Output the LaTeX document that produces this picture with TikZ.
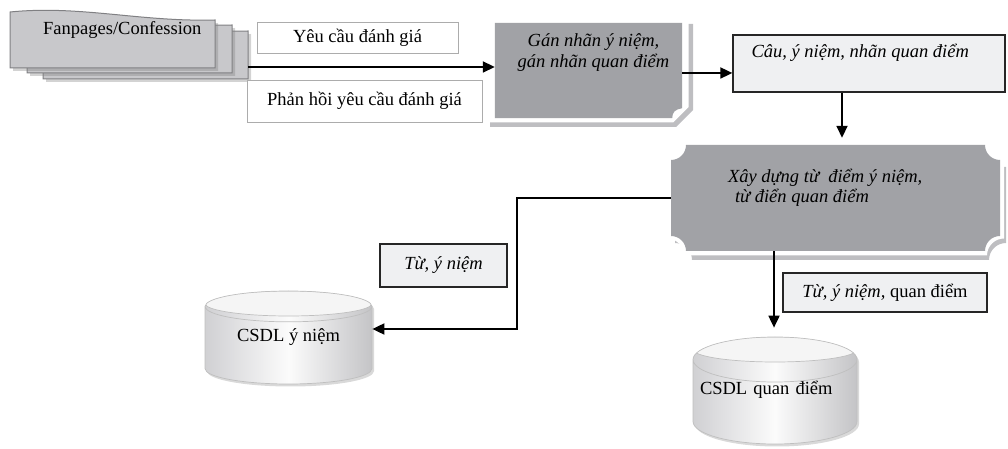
\documentclass[tikz,border=0pt]{standalone}
\usepackage{fontspec}
\setmainfont{Liberation Serif}
\usetikzlibrary{shapes, arrows.meta, positioning, calc, shadows}

\definecolor{pagegray}{RGB}{200,200,203}
\definecolor{pageline}{RGB}{128,128,131}
\definecolor{procgray}{RGB}{161,162,166}
\definecolor{notegray}{RGB}{239,240,242}
\definecolor{rimgray}{RGB}{190,190,193}
\definecolor{dbside}{RGB}{208,208,211}

% plaque outline with hollowed corners: sw corner, ne corner, corner radius
\newcommand{\plaque}[3]{%
  let \p1=#1, \p2=#2 in
  (\x1+#3,\y1) -- (\x2-#3,\y1) arc[start angle=180, end angle=90, radius=#3]
  -- (\x2,\y2-#3) arc[start angle=270, end angle=180, radius=#3]
  -- (\x1+#3,\y2) arc[start angle=360, end angle=270, radius=#3]
  -- (\x1,\y1+#3) arc[start angle=90, end angle=0, radius=#3] -- cycle}

\begin{document}
\begin{tikzpicture}[x=1pt, y=1pt, font=\fontsize{18.5}{20.5}\selectfont,
  flow/.style={-{Triangle[length=12pt, width=11pt]}, line width=1.8pt},
  msgbox/.style={draw=gray!65, line width=0.7pt, fill=white, inner sep=0pt},
  notebox/.style={draw=black!85, line width=1.3pt, fill=notegray, inner sep=0pt},
  dbase/.style={cylinder, shape border rotate=90, aspect=0.3, anchor=shape center,
    draw=gray!50, line width=0.7pt, inner sep=0pt,
    drop shadow={shadow xshift=2pt, shadow yshift=-2.5pt, opacity=0.3},
    path picture={
      \shade[left color=dbside, right color=dbside!85!gray, middle color=white!97!gray]
        (path picture bounding box.south west) rectangle (path picture bounding box.north east);
      \draw[gray!50, fill=white!92!gray, line width=0.7pt]
        let \p1=(path picture bounding box.north west), \p2=(path picture bounding box.north east) in
        ([yshift=-12.5pt]path picture bounding box.north) ellipse[x radius={(\x2-\x1)/2}, y radius=12.5pt];
    }},
  txt/.style={inner sep=0pt, font=\fontsize{18.5}{20.5}\selectfont\itshape}]
\useasboundingbox (0,0) rectangle (1008,449);

% stacked pages
\foreach \dx/\dy in {33/11, 17/5, 0/0}
  \draw[pageline, fill=pagegray, line width=1pt, shift={(\dx,-\dy)},
        drop shadow={shadow xshift=3pt, shadow yshift=-3pt, opacity=0.35}]
    (10,437) .. controls (80,444) and (140,427) .. (215,429) -- (215,381) -- (10,381) -- cycle;
\node[inner sep=0pt, anchor=west] (fan) at (43,419) {Fanpages/Confession};
\coordinate (fanR) at (248,382);

% request / reply
\node[msgbox, minimum width=201pt, minimum height=31pt] (req) at (357.5,411.5) {Yêu cầu đánh giá};
\node[msgbox, minimum width=235pt, minimum height=42pt] (reply) at (364.5,348) {Phản hồi yêu cầu đánh giá};

% labelling step, a page with a curled corner
\fill[rimgray] (490,322) -- (676,322) -- (693,339) -- (693,425) -- (490,425) -- cycle;
\fill[white] (487,326.5) -- (673,326.5) -- (688.5,342) -- (688.5,430) -- (487,430) -- cycle;
\node[minimum width=187pt, minimum height=95pt, inner sep=0pt] (tag) at (588.5,378.5) {};
\fill[procgray] (tag.north west) -- (tag.north east) -- ([yshift=10pt]tag.south east)
  .. controls ([shift={(-7pt,9pt)}]tag.south east) and ([shift={(-10pt,6pt)}]tag.south east) .. ([xshift=-10pt]tag.south east)
  -- (tag.south west) -- cycle;
\node[txt, align=center, below=11pt of tag.north, xshift=5pt] (tagtxt) {Gán nhãn ý niệm,\\gán nhãn quan điểm};

% sentences, concepts and labels
\node[notebox, minimum width=272pt, minimum height=57pt] (cau) at (869,385.5) {};
\node[txt, below right=10pt and 19pt of cau.north west] (cautxt) {Câu, ý niệm, nhãn quan điểm};

% dictionary building step
\fill[rimgray] \plaque{(675,189)}{(1006,299)}{17pt};
\fill[white] \plaque{(667,193.5)}{(1004,308)}{17pt};
\fill[procgray] \plaque{(671,198)}{(1000,304)}{15pt};
\node[minimum width=329pt, minimum height=106pt, inner sep=0pt] (build) at (835.5,251) {};
\node[txt, align=left, below right=24pt and 57pt of build.north west] (buildtxt)
  {Xây dựng từ~ điểm ý niệm,\\\hspace*{7pt}từ điển quan điểm};

% databases
\node[dbase, minimum width=167pt, minimum height=93pt] (dbidea) at (288.5,111.5)
  {\raisebox{8pt}[\height][\depth]{CSDL ý niệm}};
\node[dbase, minimum width=164pt, minimum height=107pt, text width=150pt, align=left] (dbview) at (775,58.5)
  {\raisebox{12pt}[\height][\depth]{CSDL quan điểm}};

\node[notebox, minimum width=127pt, minimum height=43pt] (lblidea) at (443.5,183.5) {\itshape Từ, ý niệm};
\node[notebox, minimum width=204pt, minimum height=39pt] (lblview) at (885,156.5) {\textit{Từ, ý niệm,} quan điểm};

% flows
\draw[flow] (fanR) -- (fanR -| tag.west);
\draw[flow] ([yshift=-2.5pt]tag.east) -- ([yshift=-2.5pt]tag.east -| cau.west);
\draw[flow, shorten >=7pt] ([xshift=-27pt]cau.south) -- ([xshift=-27pt]cau.south |- build.north);
\draw[flow] (build.west) -- ++(-154pt,0) |- ([yshift=8.5pt]dbidea.shape center -| dbidea.east);
\draw[flow, shorten >=9pt] ([xshift=-61.5pt]build.south) -- ([xshift=-61.5pt]build.south |- dbview.north);
\end{tikzpicture}
\end{document}
